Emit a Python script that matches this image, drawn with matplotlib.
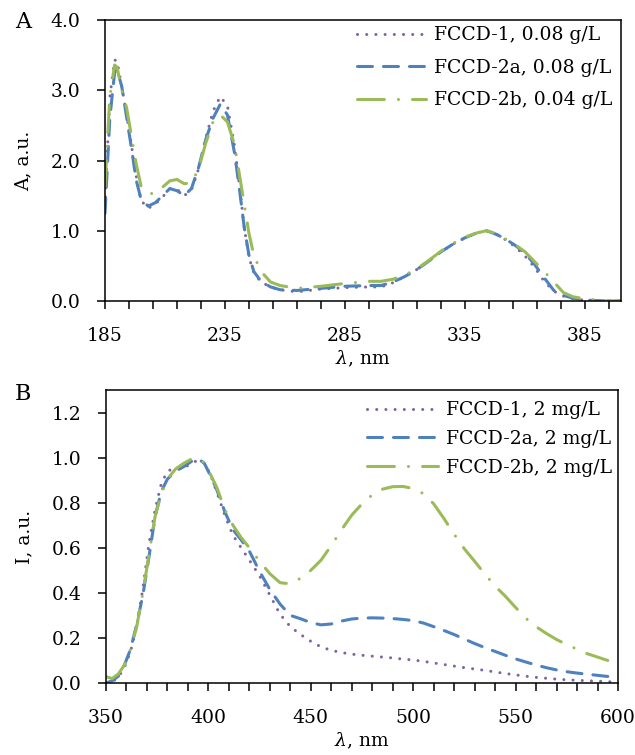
import matplotlib
matplotlib.use("Agg")
import matplotlib.pyplot as plt
from matplotlib.ticker import MultipleLocator, FormatStrFormatter

plt.rcParams['font.family'] = ['DejaVu Serif']
plt.rcParams['mathtext.fontset'] = 'dejavuserif'

# ---------------- Panel A : absorption ----------------
a_wavelength = [185, 187, 189, 190, 192, 194, 196, 198, 200, 203, 206, 209, 212, 215, 218,
                221, 224, 227, 230, 233, 236, 239, 241, 243, 245, 247, 250, 254, 258, 265,
                275, 285, 295, 300, 305, 310, 315, 320, 325, 330, 335, 340, 344, 348, 352,
                356, 360, 364, 368, 372, 376, 380, 385, 390, 395, 400]
a_fccd1 = [1.35, 2.90, 3.43, 3.42, 3.05, 2.65, 2.22, 1.78, 1.43, 1.32, 1.38, 1.48, 1.60, 1.59, 1.50,
           1.58, 1.88, 2.32, 2.70, 2.91, 2.78, 2.20, 1.65, 1.05, 0.62, 0.40, 0.27, 0.20, 0.16, 0.13,
           0.17, 0.19, 0.20, 0.20, 0.26, 0.35, 0.45, 0.57, 0.70, 0.81, 0.90, 0.97, 1.00, 0.95, 0.87,
           0.77, 0.64, 0.48, 0.28, 0.14, 0.07, 0.03, 0.01, 0.00, 0.00, 0.00]
a_fccd2a = [1.25, 2.60, 3.25, 3.30, 3.05, 2.62, 2.18, 1.72, 1.45, 1.35, 1.40, 1.50, 1.60, 1.57, 1.50,
            1.60, 1.90, 2.30, 2.60, 2.80, 2.65, 2.10, 1.60, 1.05, 0.65, 0.42, 0.28, 0.20, 0.16, 0.15,
            0.18, 0.21, 0.22, 0.22, 0.27, 0.35, 0.45, 0.57, 0.70, 0.81, 0.90, 0.97, 1.00, 0.95, 0.88,
            0.79, 0.68, 0.52, 0.33, 0.15, 0.08, 0.04, 0.015, 0.005, 0.00, 0.00]
a_fccd2b = [1.62, 2.90, 3.36, 3.33, 3.00, 2.75, 2.35, 1.95, 1.64, 1.53, 1.53, 1.62, 1.71, 1.73, 1.67,
            1.68, 1.88, 2.25, 2.55, 2.65, 2.55, 2.22, 1.80, 1.38, 0.96, 0.65, 0.42, 0.27, 0.22, 0.18,
            0.21, 0.25, 0.28, 0.28, 0.31, 0.37, 0.46, 0.58, 0.71, 0.82, 0.91, 0.97, 1.00, 0.96, 0.88,
            0.80, 0.70, 0.56, 0.42, 0.27, 0.12, 0.06, 0.03, 0.015, 0.005, 0.00]
a_labels = ["FCCD-1, 0.08 g/L", "FCCD-2a, 0.08 g/L", "FCCD-2b, 0.04 g/L"]

# ---------------- Panel B : emission ----------------
b_wavelength = [350, 353, 356, 359, 362, 365, 368, 371, 374, 377, 380, 384, 388, 392, 395, 398,
                401, 404, 408, 412, 416, 420, 425, 430, 435, 440, 445, 450, 455, 460, 465, 470,
                475, 480, 485, 490, 495, 500, 505, 510, 515, 520, 525, 530, 535, 540, 545, 550,
                555, 560, 565, 570, 575, 580, 585, 590, 595, 600]
b_fccd1 = [0.00, 0.005, 0.025, 0.07, 0.14, 0.25, 0.42, 0.62, 0.77, 0.885, 0.94, 0.955, 0.955, 0.975, 0.99, 0.975,
           0.925, 0.85, 0.745, 0.655, 0.60, 0.545, 0.475, 0.39, 0.305, 0.25, 0.215, 0.185, 0.16, 0.145, 0.135, 0.128,
           0.123, 0.119, 0.115, 0.111, 0.106, 0.102, 0.096, 0.089, 0.082, 0.075, 0.068, 0.062, 0.056, 0.049, 0.042, 0.036,
           0.030, 0.025, 0.021, 0.017, 0.014, 0.012, 0.010, 0.008, 0.006, 0.004]
b_fccd2a = [0.00, 0.01, 0.03, 0.08, 0.15, 0.26, 0.39, 0.56, 0.74, 0.85, 0.905, 0.94, 0.96, 0.985, 0.995, 0.975,
            0.92, 0.86, 0.76, 0.68, 0.635, 0.585, 0.495, 0.415, 0.35, 0.30, 0.285, 0.268, 0.258, 0.262, 0.275, 0.284,
            0.288, 0.289, 0.288, 0.286, 0.282, 0.277, 0.266, 0.250, 0.233, 0.215, 0.195, 0.175, 0.157, 0.140, 0.123, 0.107,
            0.093, 0.080, 0.068, 0.058, 0.050, 0.044, 0.039, 0.034, 0.029]
b_fccd2b = [0.028, 0.02, 0.04, 0.08, 0.15, 0.25, 0.40, 0.57, 0.74, 0.84, 0.905, 0.95, 0.975, 0.995, 0.997, 0.975,
            0.925, 0.87, 0.77, 0.70, 0.645, 0.60, 0.54, 0.485, 0.445, 0.44, 0.465, 0.50, 0.545, 0.61, 0.68, 0.745,
            0.795, 0.835, 0.86, 0.871, 0.872, 0.863, 0.84, 0.795, 0.73, 0.66, 0.595, 0.54, 0.483, 0.43, 0.385, 0.335,
            0.287, 0.25, 0.22, 0.193, 0.17, 0.15, 0.13, 0.115, 0.10]
b_labels = ["FCCD-1, 2 mg/L", "FCCD-2a, 2 mg/L", "FCCD-2b, 2 mg/L"]

colors = ["#8064A2", "#4F81BD", "#9BBB59"]
LW = 2.2
styles = [dict(dashes=(0.01, 3.0)),
          dict(dashes=(4.9, 3.6)),
          dict(dashes=(8.8, 4.6, 0.01, 4.6))]

FS = 13.5
fig = plt.figure(figsize=(6.35, 7.55), dpi=100)
axA = fig.add_axes([105/635, 1 - 301/755, (621-105)/635, (301-20)/755])
axB = fig.add_axes([106/635, 1 - 683/755, (618-106)/635, (683-390)/755])


def draw(ax, x, series, labels):
    for y, lab, c, st in zip(series, labels, colors, styles):
        ax.plot(x[:len(y)], y, color=c, lw=LW, dash_capstyle='round',
                solid_capstyle='round', label=lab, **st)


draw(axA, a_wavelength, [a_fccd1, a_fccd2a, a_fccd2b], a_labels)
draw(axB, b_wavelength, [b_fccd1, b_fccd2a, b_fccd2b], b_labels)

for ax in (axA, axB):
    for s in ax.spines.values():
        s.set_linewidth(1.1)
        s.set_color('black')
    ax.tick_params(axis='both', which='both', direction='out', length=5.5, width=1.1,
                   labelsize=FS, color='black')
    ax.tick_params(axis='x', which='both', pad=13)
    ax.tick_params(axis='y', which='both', pad=12)
    ax.tick_params(axis='both', which='both', top=False, right=False)

axA.set_xlim(185, 400)
axA.set_ylim(0, 4.0)
axA.yaxis.set_major_locator(MultipleLocator(1.0))
axA.yaxis.set_major_formatter(FormatStrFormatter('%.1f'))
axA.set_xticks([185, 235, 285, 335, 385])
axA.set_xticks(list(range(185, 401, 10)), minor=True)
axA.set_xlabel(r'$\lambda$, nm', fontsize=FS, labelpad=3)
axA.set_ylabel('A, a.u.', fontsize=FS, labelpad=13)

axB.set_xlim(350, 600)
axB.set_ylim(0, 1.3)
axB.xaxis.set_major_locator(MultipleLocator(50))
axB.xaxis.set_minor_locator(MultipleLocator(10))
axB.set_yticks([0, 0.2, 0.4, 0.6, 0.8, 1.0, 1.2])
axB.yaxis.set_major_formatter(FormatStrFormatter('%.1f'))
axB.set_xlabel(r'$\lambda$, nm', fontsize=FS, labelpad=3)
axB.set_ylabel('I, a.u.', fontsize=FS, labelpad=13)

axA.legend(loc='upper right', bbox_to_anchor=(0.986, 0.985), frameon=False, fontsize=FS,
           handlelength=3.7, handletextpad=0.4, labelspacing=0.78, borderaxespad=0,
           borderpad=0.1)
axB.legend(loc='upper right', bbox_to_anchor=(0.992, 0.968), frameon=False, fontsize=FS,
           handlelength=3.8, handletextpad=0.4, labelspacing=0.57, borderaxespad=0,
           borderpad=0.1)

fig.text(15/635, 1 - 28/755, 'A', fontsize=16, ha='left', va='baseline')
fig.text(15/635, 1 - 400/755, 'B', fontsize=16, ha='left', va='baseline')

fig.savefig('out.png', dpi=100)
